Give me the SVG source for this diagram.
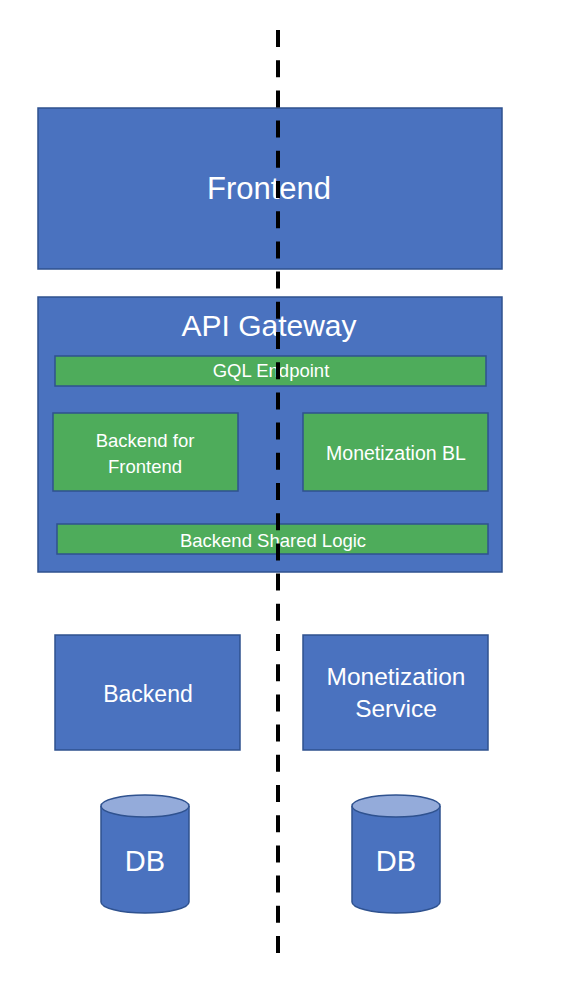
<svg xmlns="http://www.w3.org/2000/svg" width="562" height="988" viewBox="0 0 562 988">
<style>
.blue{fill:#4A72BF;stroke:#2F528F;stroke-width:1.5}
.green{fill:#4EAC5B;stroke:#2F528F;stroke-width:1.5}
.cap{fill:#94ABDA;stroke:#2F528F;stroke-width:1.5}
text{font-family:"Liberation Sans",Arial,sans-serif;fill:#fff;text-anchor:middle}
.sep{stroke:#000;stroke-width:4;stroke-dasharray:17 13.2;fill:none}
</style>
<g id="frontend">
<rect class="blue" x="38" y="108" width="464" height="161"/>
<text x="269" y="199" font-size="31">Frontend</text>
</g>
<g id="api-gateway">
<rect class="blue" x="38" y="297" width="464" height="275"/>
<text x="269" y="336" font-size="30">API Gateway</text>
</g>
<g id="gql-endpoint">
<rect class="green" x="55" y="356" width="431" height="30"/>
<text x="271" y="377" font-size="18.5">GQL Endpoint</text>
</g>
<g id="bff">
<rect class="green" x="53" y="413" width="185" height="78"/>
<text x="145" y="447" font-size="18.5">Backend for</text>
<text x="145" y="473" font-size="18.5">Frontend</text>
</g>
<g id="monetization-bl">
<rect class="green" x="303" y="413" width="185" height="78"/>
<text x="396" y="460" font-size="19.5">Monetization BL</text>
</g>
<g id="backend-shared-logic">
<rect class="green" x="57" y="524" width="431" height="30"/>
<text x="273" y="547" font-size="18.5">Backend Shared Logic</text>
</g>
<g id="backend">
<rect class="blue" x="55" y="635" width="185" height="115"/>
<text x="148" y="702" font-size="23">Backend</text>
</g>
<g id="monetization-service">
<rect class="blue" x="303" y="635" width="185" height="115"/>
<text x="396" y="685" font-size="24.5">Monetization</text>
<text x="396" y="717" font-size="24.5">Service</text>
</g>
<g id="db-left">
<path class="blue" d="M101 806 V902 A44 11 0 0 0 189 902 V806"/>
<ellipse class="cap" cx="145" cy="806" rx="44" ry="11"/>
<text x="145" y="871" font-size="29">DB</text>
</g>
<g id="db-right">
<path class="blue" d="M352 806 V902 A44 11 0 0 0 440 902 V806"/>
<ellipse class="cap" cx="396" cy="806" rx="44" ry="11"/>
<text x="396" y="871" font-size="29">DB</text>
</g>
<g id="connectors">
<line class="sep" x1="278" y1="30" x2="278" y2="953"/>
</g>
</svg>
